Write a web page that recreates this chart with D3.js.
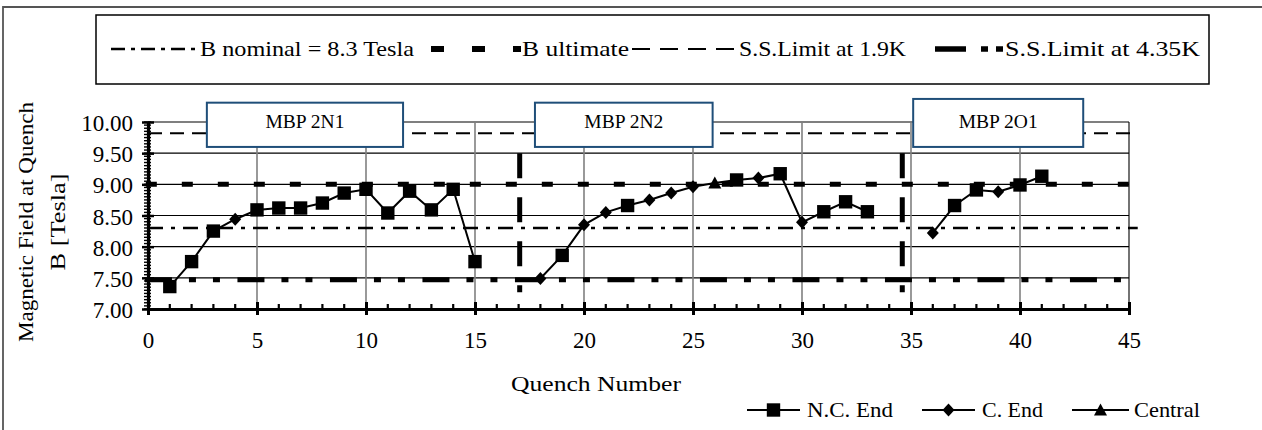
<!DOCTYPE html>
<html><head><meta charset="utf-8">
<script src="https://cdn.jsdelivr.net/npm/d3@7"></script>
<style>
body{margin:0;background:#fff}
svg text{font-family:"Liberation Serif","Tinos","Times New Roman","DejaVu Serif",serif !important;fill:#000}
</style>
</head><body>
<svg id="c" width="1262" height="430"></svg>
<script>
// ---------- data ----------
const quench = [1,2,3,4,5,6,7,8,9,10,11,12,13,14,15,
                18,19,20,21,22,23,24,25,26,27,28,29,30,31,32,33,
                36,37,38,39,40,41];
const field  = [7.36,7.76,8.25,8.44,8.59,8.62,8.62,8.70,8.86,8.92,8.54,8.89,8.59,8.92,7.76,
                7.49,7.86,8.35,8.55,8.66,8.75,8.86,8.96,9.02,9.07,9.10,9.17,8.39,8.56,8.72,8.56,
                8.22,8.66,8.91,8.88,8.99,9.13];
// N = N.C. End, C = C. End, T = Central
const quenchLocation = ["N","N","N","C","N","N","N","N","N","N","N","N","N","N","N",
                  "C","N","C","C","N","C","C","C","T","N","C","N","C","N","N","N",
                  "C","N","N","C","N","N"];
const magnets     = ["MBP 2N1","MBP 2N2","MBP 2O1"];
const magnetFirst = [1,18,36];
const magnetLast  = [15,33,41];
const separators  = [17.05, 34.6];
const xTicks = [0,5,10,15,20,25,30,35,40,45];
const yTicks = [7.0,7.5,8.0,8.5,9.0,9.5,10.0];
const refNames  = ["B nominal = 8.3 Tesla","B ultimate","S.S.Limit at 1.9K","S.S.Limit at 4.35K"];
const refValues = [8.3, 9.0, 9.82, 7.47];
const seriesNames = ["N.C. End","C. End","Central"];
const seriesCodes = ["N","C","T"];

// ---------- layout ----------
const FONT = "'Liberation Serif','Tinos','Times New Roman','DejaVu Serif',serif";
const svg = d3.select("#c");
const x = d3.scaleLinear().domain([0,45]).range([148,1129]);
const y = d3.scaleLinear().domain([7,10]).range([309,122]);

// outer frame
svg.append("path").attr("d","M3,432V7H1264").attr("fill","none").attr("stroke","#555").attr("stroke-width",1.8);

// gridlines
const g = svg.append("g");
g.selectAll("line.hg").data(yTicks.filter(v=>v>7)).join("line")
  .attr("x1",x(0)).attr("x2",x(45)).attr("y1",d=>y(d)).attr("y2",d=>y(d))
  .attr("stroke","#000").attr("stroke-width",1.1);
g.selectAll("line.vg").data(xTicks.filter(v=>v>0)).join("line")
  .attr("x1",d=>x(d)).attr("x2",d=>x(d)).attr("y1",y(10)).attr("y2",y(7))
  .attr("stroke",d=>d===45?"#000":"#808080").attr("stroke-width",d=>d===45?1.1:1.6);

// reference lines
const refStyles = [
  {w:2.5, dash:"15 8 4 8", x0:0, x1:45.4},
  {w:5,   dash:"11 25",    x0:-0.1, x1:45},
  {w:2,   dash:"14 8",     x0:0, x1:45.4},
  {w:5,   dash:"27 17 7 17 7 17.5", x0:-0.14, x1:45.4}
];
refValues.forEach((v,i)=>{
  const s = refStyles[i];
  svg.append("line").attr("x1",x(s.x0)).attr("x2",x(s.x1)).attr("y1",y(v)).attr("y2",y(v))
    .attr("stroke","#000").attr("stroke-width",s.w).attr("stroke-dasharray",s.dash);
});

// separators between magnets
svg.selectAll("line.sep").data(separators).join("line")
  .attr("x1",d=>x(d)).attr("x2",d=>x(d)).attr("y1",y(9.5)).attr("y2",y(7.27))
  .attr("stroke","#000").attr("stroke-width",5).attr("stroke-dasharray","25 19");

// data lines per magnet
const pts = quench.map((q,i)=>({q, v:field[i], loc:quenchLocation[i]}));
const line = d3.line().x(d=>x(d.q)).y(d=>y(d.v));
magnets.forEach((m,k)=>{
  const seg = pts.filter(p=>p.q>=magnetFirst[k] && p.q<=magnetLast[k]);
  svg.append("path").attr("d",line(seg)).attr("fill","none").attr("stroke","#000").attr("stroke-width",2);
});

// markers
function marker(code){
  if(code==="N") return "M-6.7,-6.7H6.7V6.7H-6.7Z";
  if(code==="C") return "M0,-6.5L6,0L0,6.5L-6,0Z";
  return "M0,-6.5L6.5,5.5H-6.5Z";
}
svg.selectAll("path.mk").data(pts).join("path")
  .attr("d",d=>marker(d.loc)).attr("transform",d=>`translate(${x(d.q)},${y(d.v)})`)
  .attr("fill","#000");

// axes
const xAxis = svg.append("g").attr("transform",`translate(0,${y(7)})`)
  .call(d3.axisBottom(x).tickValues(xTicks).tickSizeOuter(0).tickFormat(d3.format("d")));
xAxis.attr("font-family",FONT);
xAxis.select(".domain").attr("stroke-width",3.2);
xAxis.selectAll(".tick line").attr("y1",-7).attr("y2",6).attr("stroke-width",3);
xAxis.selectAll(".tick text").attr("y",39).attr("dy",0).style("font-size","23px");
svg.append("g").selectAll("line").data(d3.range(0,46).filter(v=>v%5)).join("line")
  .attr("x1",d=>x(d)).attr("x2",d=>x(d)).attr("y1",y(7)-5).attr("y2",y(7))
  .attr("stroke","#000").attr("stroke-width",2.2);

const yAxis = svg.append("g").attr("transform",`translate(${x(0)},0)`)
  .call(d3.axisLeft(y).tickValues(yTicks).tickSizeOuter(0).tickFormat(d3.format(".2f")));
yAxis.attr("font-family",FONT);
yAxis.select(".domain").attr("stroke-width",3.2);
yAxis.selectAll(".tick line").attr("x1",-6).attr("x2",6).attr("stroke-width",2.5);
yAxis.selectAll(".tick text").attr("x",-15).attr("dy",0).attr("y",8.5).style("font-size","23px");
svg.append("g").selectAll("line").data(d3.range(0,61).map(i=>7+i*0.05)).join("line")
  .attr("x1",x(0)-4).attr("x2",x(0)+3).attr("y1",d=>y(d)).attr("y2",d=>y(d))
  .attr("stroke","#000").attr("stroke-width",1.4);

// magnet label boxes
const boxX0 = [2.7, 17.75, 35.1], boxX1 = [11.7, 25.9, 42.9], boxTop = [10.31,10.31,10.37];
magnets.forEach((m,k)=>{
  svg.append("rect").attr("x",x(boxX0[k])).attr("y",y(boxTop[k]))
    .attr("width",x(boxX1[k])-x(boxX0[k])).attr("height",y(9.6)-y(boxTop[k]))
    .attr("fill","#fff").attr("stroke","#1f4e79").attr("stroke-width",2);
  svg.append("text").attr("x",(x(boxX0[k])+x(boxX1[k]))/2).attr("y",128)
    .attr("text-anchor","middle").style("font-size","19.5px").text(m);
});

// axis titles
svg.append("text").attr("transform","translate(33,222) rotate(-90)").attr("text-anchor","middle")
  .style("font-size","22px").attr("textLength",240).attr("lengthAdjust","spacingAndGlyphs")
  .text("Magnetic Field at Quench");
svg.append("text").attr("transform","translate(65,222) rotate(-90)").attr("text-anchor","middle")
  .style("font-size","22px").attr("textLength",97).attr("lengthAdjust","spacingAndGlyphs")
  .text("B [Tesla]");
svg.append("text").attr("x",596).attr("y",391).attr("text-anchor","middle")
  .style("font-size","22px").attr("textLength",170).attr("lengthAdjust","spacingAndGlyphs")
  .text("Quench Number");

// top legend
svg.append("rect").attr("x",96).attr("y",15).attr("width",1113).attr("height",69)
  .attr("fill","none").attr("stroke","#000").attr("stroke-width",1.5);
const legItems = [
  {x0:111,x1:197,w:2.5,dash:"14 6 4 6",tx:200,tw:214},
  {x0:431,x1:521,w:6,dash:"13 28",tx:522,tw:107},
  {x0:632,x1:735,w:2,dash:"18 10",tx:739,tw:167},
  {x0:935,x1:1003,w:5.5,dash:"31 15 7 8 7 40",tx:1005,tw:195}
];
refNames.forEach((n,i)=>{
  const L = legItems[i];
  svg.append("line").attr("x1",L.x0).attr("x2",L.x1).attr("y1",49).attr("y2",49)
    .attr("stroke","#000").attr("stroke-width",L.w).attr("stroke-dasharray",L.dash);
  svg.append("text").attr("x",L.tx).attr("y",56).style("font-size","22px")
    .attr("textLength",L.tw).attr("lengthAdjust","spacingAndGlyphs").text(n);
});

// bottom legend
const bl = [{x0:747,x1:800,tx:807,tw:86},{x0:922,x1:975,tx:982,tw:61},{x0:1072,x1:1129,tx:1134,tw:66}];
seriesNames.forEach((n,i)=>{
  const L = bl[i];
  svg.append("line").attr("x1",L.x0).attr("x2",L.x1).attr("y1",410).attr("y2",410)
    .attr("stroke","#000").attr("stroke-width",2);
  svg.append("path").attr("d",marker(seriesCodes[i])).attr("transform",`translate(${(L.x0+L.x1)/2},410)`)
    .attr("fill","#000");
  svg.append("text").attr("x",L.tx).attr("y",417).style("font-size","22px")
    .attr("textLength",L.tw).attr("lengthAdjust","spacingAndGlyphs").text(n);
});
</script>
</body></html>
